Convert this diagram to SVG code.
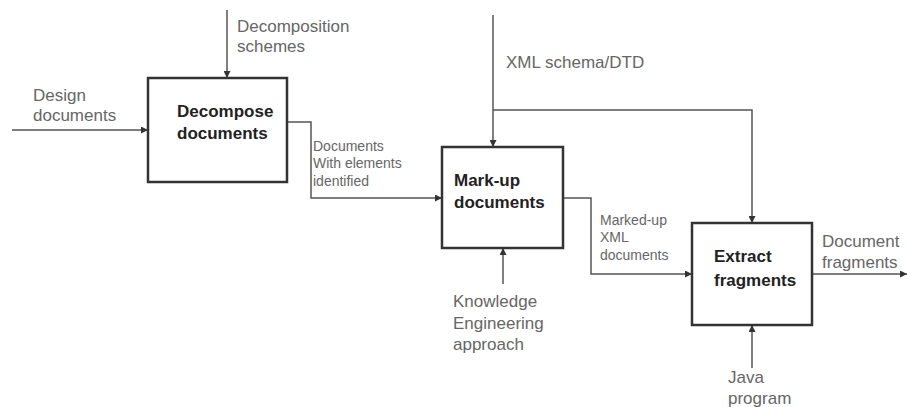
<svg xmlns="http://www.w3.org/2000/svg" width="907" height="407" viewBox="0 0 907 407">
<defs>
<marker id="ah" viewBox="0 0 10 10" refX="10" refY="5" markerWidth="7" markerHeight="7" markerUnits="userSpaceOnUse" orient="auto">
<path d="M0,0 L10,5 L0,10 z" fill="#333"/>
</marker>
<style>
.box{fill:#fff;stroke:#333;stroke-width:2.5}
.t{font-family:"Liberation Sans",Arial,sans-serif;font-size:17px;fill:#666}
.s{font-family:"Liberation Sans",Arial,sans-serif;font-size:14px;fill:#666}
.b{font-family:"Liberation Sans",Arial,sans-serif;font-size:17px;font-weight:bold;fill:#222}
.c{fill:none;stroke:#555;stroke-width:1.5}
</style>
</defs>
<rect width="907" height="407" fill="#fff"/>
<g id="connectors">
<path class="c" d="M12,130 H148" marker-end="url(#ah)"/>
<path class="c" d="M227,10 V78" marker-end="url(#ah)"/>
<path class="c" d="M287,122 H311 V198 H442" marker-end="url(#ah)"/>
<path class="c" d="M493,15 V147" marker-end="url(#ah)"/>
<path class="c" d="M493,110 H752 V223" marker-end="url(#ah)"/>
<path class="c" d="M563,198 H591 V274 H692" marker-end="url(#ah)"/>
<path class="c" d="M503,284 V248" marker-end="url(#ah)"/>
<path class="c" d="M752,368 V325" marker-end="url(#ah)"/>
<path class="c" d="M812,274 H907" marker-end="url(#ah)"/>
</g>
<g id="labels">
<text class="t" x="33" y="101">Design</text>
<text class="t" x="33" y="121">documents</text>
<text class="t" x="237" y="32">Decomposition</text>
<text class="t" x="237" y="52">schemes</text>
<text class="s" x="313" y="151">Documents</text>
<text class="s" x="313" y="168">With elements</text>
<text class="s" x="313" y="186">identified</text>
<text class="t" x="506" y="68">XML schema/DTD</text>
<text class="s" x="600" y="225">Marked-up</text>
<text class="s" x="600" y="242">XML</text>
<text class="s" x="600" y="260">documents</text>
<text class="t" x="453" y="307">Knowledge</text>
<text class="t" x="453" y="329">Engineering</text>
<text class="t" x="453" y="350">approach</text>
<text class="t" x="822" y="247">Document</text>
<text class="t" x="822" y="268">fragments</text>
<text class="t" x="728" y="383">Java</text>
<text class="t" x="728" y="404">program</text>
</g>
<g id="decompose">
<rect class="box" x="148" y="78" width="139" height="104"/>
<text class="b" x="177" y="117">Decompose</text>
<text class="b" x="177" y="139">documents</text>
</g>
<g id="markup">
<rect class="box" x="442" y="147" width="121" height="101"/>
<text class="b" x="454" y="186">Mark-up</text>
<text class="b" x="454" y="208">documents</text>
</g>
<g id="extract">
<rect class="box" x="692" y="223" width="120" height="102"/>
<text class="b" x="714" y="262">Extract</text>
<text class="b" x="714" y="286">fragments</text>
</g>
</svg>
